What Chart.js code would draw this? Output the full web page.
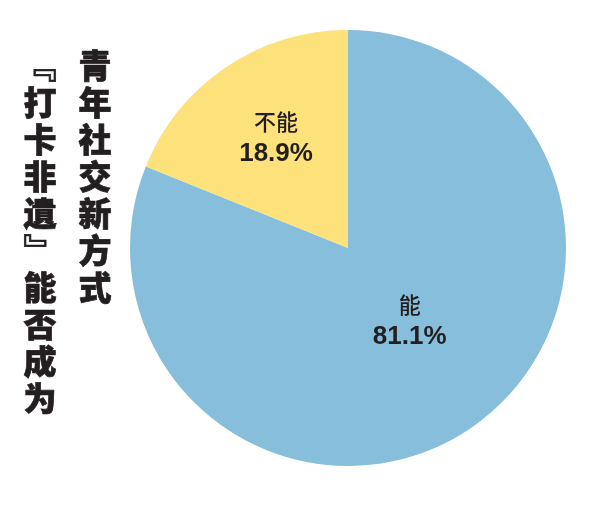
<!DOCTYPE html>
<html>
<head>
<meta charset="utf-8">
<script src="https://cdn.jsdelivr.net/npm/chart.js@4"></script>
<style>
  html, body { margin: 0; padding: 0; background: #fff; }
  #wrap { position: relative; width: 600px; height: 506px; }
  #title {
    position: absolute; right: 478px; top: 49px;
    writing-mode: vertical-rl;
    font-family: "Noto Sans CJK SC", sans-serif;
    font-weight: 900; font-size: 33px; line-height: 55px;
    letter-spacing: 4px; color: #231f20;
    -webkit-text-stroke: 0.7px #231f20;
  }
</style>
</head>
<body>
<div id="wrap">
  <canvas id="pieChart" width="600" height="506"></canvas>
  <div id="title">青年社交新方式<br>『打卡非遺』能否成为</div>
</div>
<script>
const categories = ["能", "不能"];
const shares = [81.1, 18.9];
const sliceColors = ["#86bedb", "#fde17b"];
// label centre, as fraction of radius from pie centre
const labelSpots = [[0.283, 0.333], [-0.33, -0.505]];

const sliceLabels = {
  id: "sliceLabels",
  afterDatasetsDraw(chart) {
    const ctx = chart.ctx;
    const arcs = chart.getDatasetMeta(0).data;
    ctx.save();
    ctx.textAlign = "center";
    ctx.textBaseline = "middle";
    ctx.fillStyle = "#231f20";
    arcs.forEach((arc, i) => {
      const r = arc.outerRadius;
      const x = arc.x + labelSpots[i][0] * r;
      const y = arc.y + labelSpots[i][1] * r;
      ctx.font = '500 22px "Noto Sans CJK SC", sans-serif';
      ctx.fillText(categories[i], x, y - 16);
      ctx.font = 'bold 26px "Liberation Sans", "Noto Sans", sans-serif';
      ctx.fillText(shares[i].toFixed(1) + "%", x, y + 16);
    });
    ctx.restore();
  },
};

new Chart(document.getElementById("pieChart").getContext("2d"), {
  type: "pie",
  data: {
    labels: categories,
    datasets: [{ data: shares, backgroundColor: sliceColors, borderWidth: 0 }],
  },
  options: {
    responsive: false,
    animation: false,
    layout: { padding: { left: 130, right: 34, top: 30, bottom: 40 } },
    plugins: { legend: { display: false }, tooltip: { enabled: false } },
  },
  plugins: [sliceLabels],
});
</script>
</body>
</html>
